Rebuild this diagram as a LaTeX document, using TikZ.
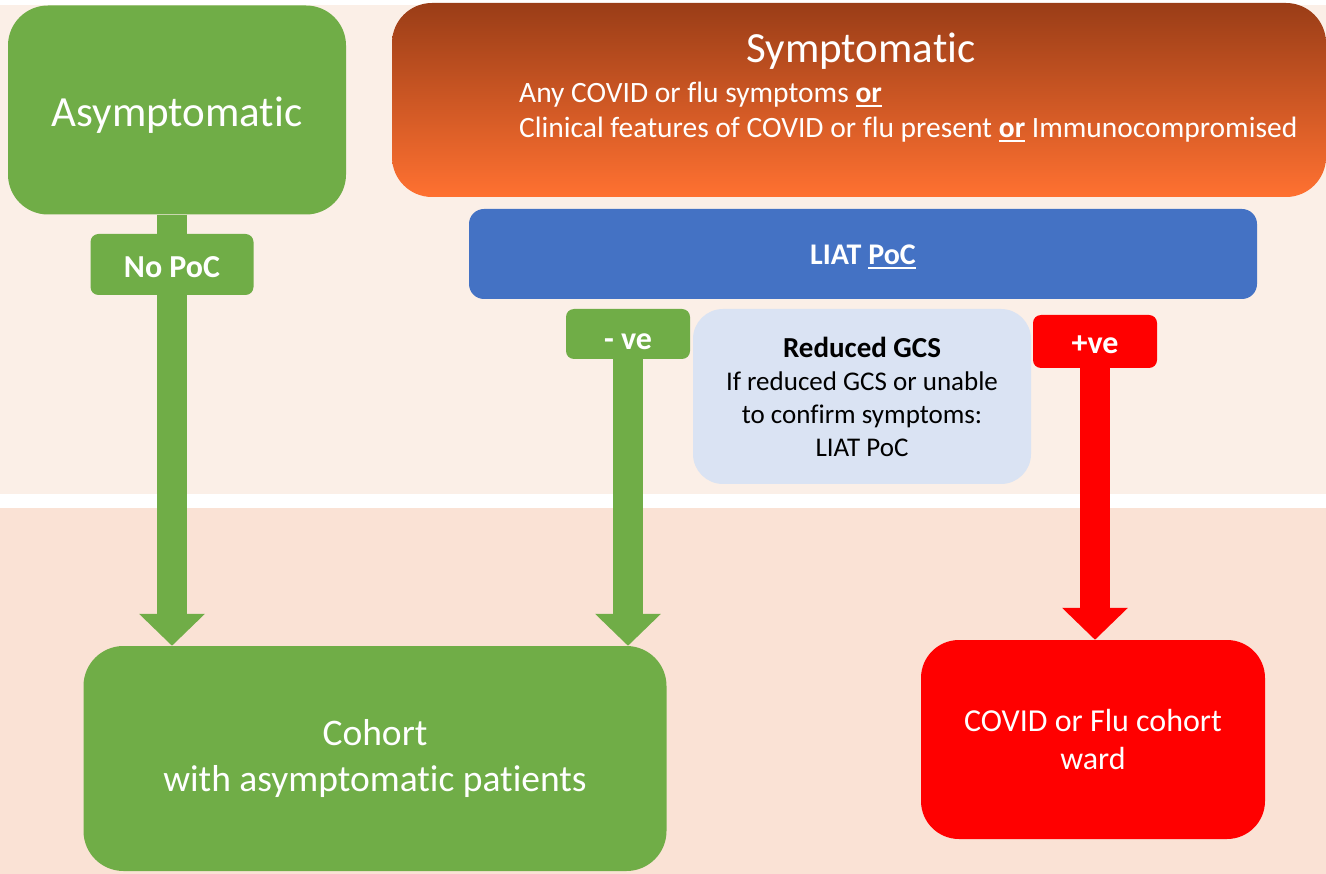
\documentclass[tikz,border=0pt]{standalone}
\usepackage{fontspec}
\setmainfont[Ligatures=NoCommon]{Carlito}
\usetikzlibrary{arrows.meta}
\definecolor{bandtop}{HTML}{FBEFE7}
\definecolor{bandbottom}{HTML}{FAE2D5}
\definecolor{asymgreen}{HTML}{70AD47}
\definecolor{liatblue}{HTML}{4472C4}
\definecolor{gcsblue}{HTML}{DAE3F3}
\definecolor{wardred}{HTML}{FF0000}
\definecolor{sympdark}{HTML}{9A3D17}
\definecolor{symplight}{HTML}{FF7131}
\newcommand{\undr}[1]{\setbox0\hbox{#1}\rlap{\rule[-4pt]{\wd0}{2pt}}\box0}
\begin{document}
\begin{tikzpicture}
[x=1pt,y=-1pt,
  bigbox/.style={rounded corners=40pt,inner sep=0pt,text=white},%
  tagbox/.style={rounded corners=8pt,inner sep=0pt,text=white,text depth=0pt,
    font=\fontsize{32}{38}\selectfont\bfseries},%
  stemdecorate/.style={line width=30pt},%
  arrowdecorate/.style={line width=30pt,-{Triangle[width=64pt,length=32pt]}}]
\useasboundingbox (0,0) rectangle (1326,874);
%%
%% background bands
\fill[bandtop] (0,5) rectangle (1326,494);
\fill[bandbottom] (0,508) rectangle (1326,874);
%%
%% boxes
\node (asym) at (177,110) [bigbox,fill=asymgreen,minimum width=338pt,minimum height=209pt,
  text height=33pt,text depth=0pt,font=\fontsize{43}{50}\selectfont] {Asymptomatic};
\node (symp) at (859,100) [bigbox,top color=sympdark,bottom color=symplight,
  minimum width=934pt,minimum height=194pt] {};
\node (symptitle) at (861,63) [anchor=base,text=white,inner sep=0pt,
  font=\fontsize{43}{50}\selectfont] {Symptomatic};
\node (sympline1) at (519,103) [anchor=base west,text=white,inner sep=0pt,
  font=\fontsize{29.5}{35}\selectfont] {Any COVID or flu symptoms \textbf{\undr{or}}};
\node (sympline2) at (519,138) [anchor=base west,text=white,inner sep=0pt,
  font=\fontsize{29.5}{35}\selectfont]
  {Clinical features of COVID or flu present \textbf{\undr{or}} Immunocompromised};
\node (liat) at (863,254) [rounded corners=15pt,inner sep=0pt,fill=liatblue,text=white,
  minimum width=788pt,minimum height=90pt,text height=22pt,text depth=0pt,
  font=\fontsize{30}{36}\selectfont\bfseries] {LIAT \undr{PoC}};
\node (nopoc) at (172,264.5) [tagbox,fill=asymgreen,minimum width=163pt,minimum height=61pt,
  text height=27pt] {No PoC};
\node (nve) at (628,334) [tagbox,fill=asymgreen,minimum width=124pt,minimum height=50pt,
  text height=32pt] {- ve};
\node (pve) at (1095,341.5) [tagbox,fill=wardred,minimum width=124pt,minimum height=53pt,
  text height=25pt] {+ve};
\node (gcs) at (862,396.5) [rounded corners=30pt,inner sep=0pt,fill=gcsblue,text=black,
  minimum width=338pt,minimum height=175pt,align=center,
  font=\fontsize{27}{33}\selectfont]
  {{\fontsize{29}{33}\selectfont\bfseries Reduced GCS}\\If reduced GCS or unable\\
   to confirm symptoms:\\LIAT PoC};
\node (cohort) at (375,758.5) [bigbox,fill=asymgreen,minimum width=583pt,minimum height=225pt,
  align=center,font=\fontsize{37.5}{46}\selectfont] {Cohort\\with asymptomatic patients};
\node (ward) at (1093,739.5) [bigbox,rounded corners=38pt,fill=wardred,minimum width=344pt,
  minimum height=199pt,align=center,font=\fontsize{32}{38}\selectfont]
  {COVID or Flu cohort\\ward};
%%
%% stems and arrows
\draw[stemdecorate,asymgreen] (asym.south -| nopoc.north) -- (nopoc.north);
\foreach \startnode/\endnode/\col in {nopoc/cohort/asymgreen, nve/cohort/asymgreen,
  pve/ward/wardred} {
  \draw[arrowdecorate,\col] (\startnode.south) -- (\startnode.south |- \endnode.north);
}
\end{tikzpicture}
\end{document}
